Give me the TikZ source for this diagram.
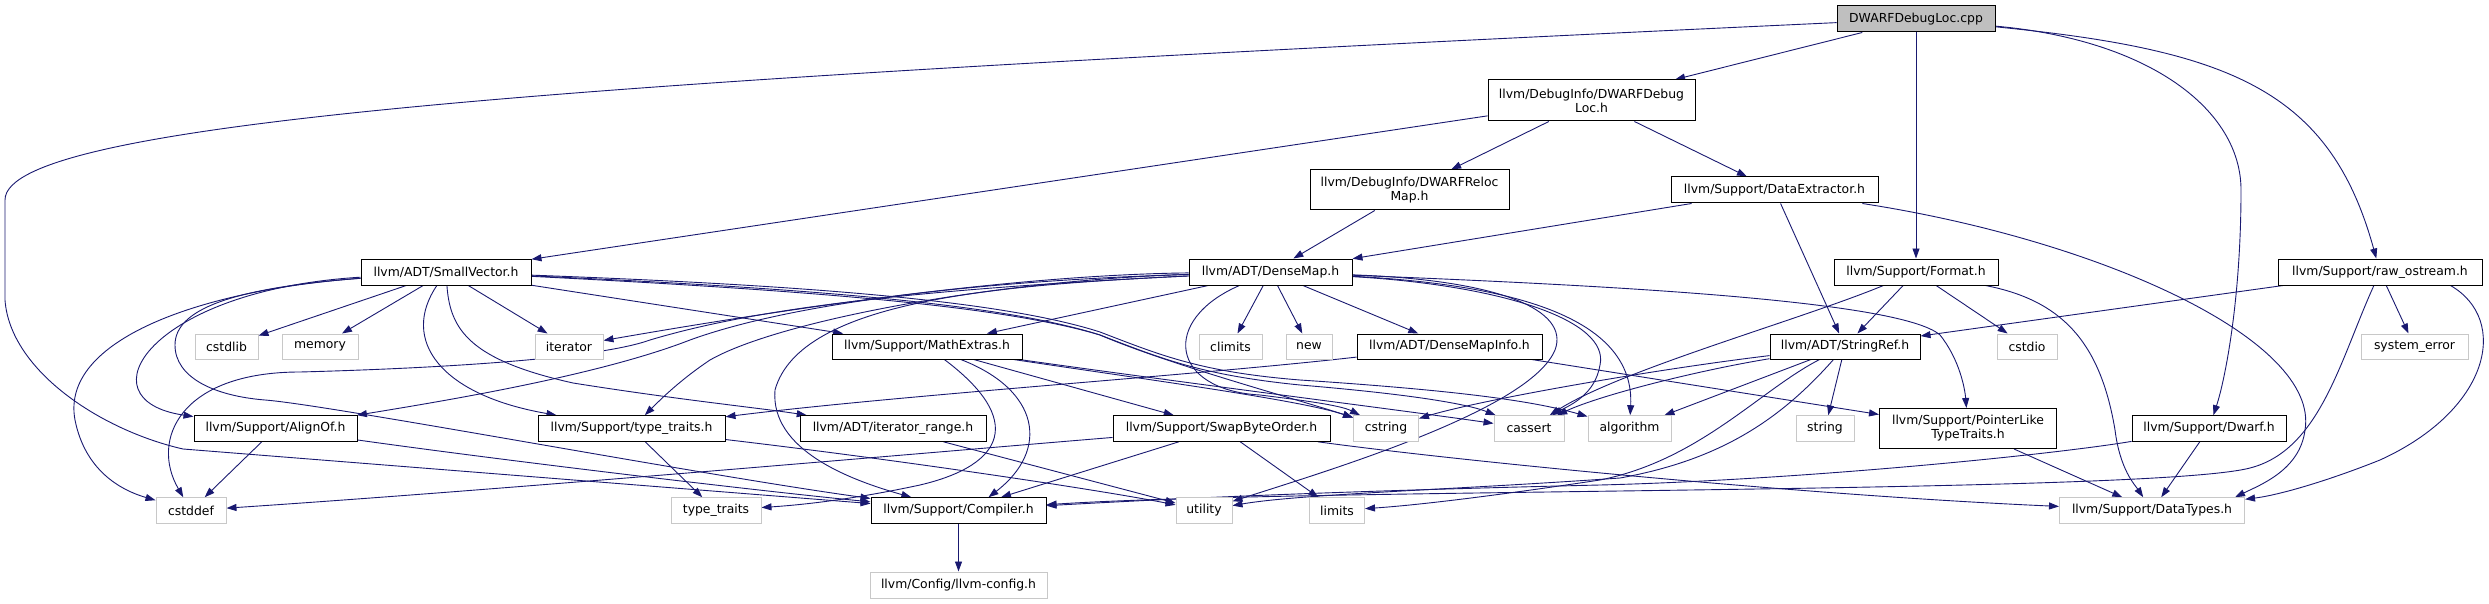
\documentclass[tikz,border=0pt]{standalone}
\usepackage{fontspec}
\setmainfont{DejaVu Sans}
\usetikzlibrary{arrows.meta}
\definecolor{edgeblue}{RGB}{25,25,112}
\definecolor{sysgray}{RGB}{200,200,200}
\definecolor{rootfill}{RGB}{191,191,191}
\pgfdeclarelayer{bg}
\pgfsetlayers{bg,main}
\newcommand{\dxfont}{\fontsize{12.4}{14}\selectfont}
\tikzset{
  base/.style={line width=1pt, inner sep=0pt, font=\dxfont, align=center, fill=white, text=black},
  hdr/.style={base, draw=black},
  sys/.style={base, draw=sysgray},
  rootn/.style={base, draw=black, fill=rootfill},
  sz/.style 2 args={minimum width=#1pt, minimum height=#2pt},
  edge/.style={draw=edgeblue, line width=0.9pt, -{Triangle[length=10pt,width=7pt]}},
}
\begin{document}
\begin{tikzpicture}[x=1pt,y=-1pt]
\useasboundingbox (0,0) rectangle (2489,604);
% row 0-2
\node[rootn, sz={158}{26}] (cpp) at (1916,19) {DWARFDebugLoc.cpp};
\node[hdr, sz={207}{41}] (dlh) at (1591.5,100.5) {llvm/DebugInfo/DWARFDebug\\Loc.h};
\node[hdr, sz={199}{40}] (rel) at (1409.5,190) {llvm/DebugInfo/DWARFReloc\\Map.h};
\node[hdr, sz={207}{26}] (dex) at (1774.5,190) {llvm/Support/DataExtractor.h};
% row 3
\node[hdr, sz={170}{26}] (sv) at (446,272) {llvm/ADT/SmallVector.h};
\node[hdr, sz={163}{26}] (dm) at (1270.5,272) {llvm/ADT/DenseMap.h};
\node[hdr, sz={164}{26}] (fmt) at (1916,272) {llvm/Support/Format.h};
\node[hdr, sz={204}{26}] (ros) at (2380,272) {llvm/Support/raw\_ostream.h};
% row 4
\node[sys, sz={63}{25}] (cstdlib) at (226.5,346.5) {cstdlib};
\node[sys, sz={76}{25}] (memory) at (320,346.5) {memory};
\node[sys, sz={68}{25}] (iterator) at (569,346.5) {iterator};
\node[hdr, sz={190}{25}] (mex) at (927,346.5) {llvm/Support/MathExtras.h};
\node[sys, sz={63}{25}] (climits) at (1230.5,346.5) {climits};
\node[sys, sz={46}{25}] (new) at (1309,346.5) {new};
\node[hdr, sz={185}{25}] (dmi) at (1449.5,346.5) {llvm/ADT/DenseMapInfo.h};
\node[hdr, sz={150}{25}] (sref) at (1845,346.5) {llvm/ADT/StringRef.h};
\node[sys, sz={60}{25}] (cstdio) at (2027,346.5) {cstdio};
\node[sys, sz={107}{25}] (syserr) at (2414.5,346.5) {system\_error};
% row 5
\node[hdr, sz={163}{25.6}] (alignof) at (275.5,428.5) {llvm/Support/AlignOf.h};
\node[hdr, sz={187}{25.6}] (tth) at (631.5,428.5) {llvm/Support/type\_traits.h};
\node[hdr, sz={186}{25.6}] (itr) at (893,428.5) {llvm/ADT/iterator\_range.h};
\node[hdr, sz={217}{25.6}] (sbo) at (1221.5,428.5) {llvm/Support/SwapByteOrder.h};
\node[sys, sz={65}{25.6}] (cstring) at (1386,428.5) {cstring};
\node[sys, sz={70}{25.6}] (cassert) at (1529,428.5) {cassert};
\node[sys, sz={83}{25.6}] (algorithm) at (1629.5,428.5) {algorithm};
\node[sys, sz={58}{25.6}] (string) at (1825,428.5) {string};
\node[hdr, sz={177}{40}] (plt) at (1968,428.5) {llvm/Support/PointerLike\\TypeTraits.h};
\node[hdr, sz={154}{25.6}] (dwarf) at (2209,428.5) {llvm/Support/Dwarf.h};
% row 6
\node[sys, sz={70}{25.5}] (cstddef) at (191,510.5) {cstddef};
\node[sys, sz={90}{25.5}] (ttstd) at (716,510.5) {type\_traits};
\node[hdr, sz={175}{25.5}] (comp) at (958.5,510.5) {llvm/Support/Compiler.h};
\node[sys, sz={56}{25.5}] (utility) at (1204,510.5) {utility};
\node[sys, sz={55}{25.5}] (limits) at (1337,510.5) {limits};
\node[sys, sz={185}{25.5}] (dtypes) at (2152,510.5) {llvm/Support/DataTypes.h};
% row 7
\node[sys, sz={177}{26}] (cfg) at (958.5,585) {llvm/Config/llvm-config.h};

\begin{pgfonlayer}{bg}
% DWARFDebugLoc.cpp
\draw[edge] (cpp) -- (dlh);
\draw[edge] (cpp) .. controls (600,80) and (5,120) .. (5,200) -- (5,300) .. controls (10,370) and (100,430) .. (183,449) -- (comp);
\draw[edge] (cpp) -- (fmt);
\draw[edge] (cpp) .. controls (2150,40) and (2241,110) .. (2241,190) .. controls (2241,300) and (2225,380) .. (dwarf);
\draw[edge] (cpp) .. controls (2230,50) and (2330,90) .. (ros);
% DWARFDebugLoc.h
\draw[edge] (dlh) -- (sv);
\draw[edge] (dlh) -- (rel);
\draw[edge] (dlh) -- (dex);
% RelocMap, DataExtractor
\draw[edge] (rel) -- (dm);
\draw[edge] (dex) -- (dm);
\draw[edge] (dex) -- (sref);
\draw[edge] (dex) .. controls (2100,240) and (2320,340) .. (2305,430) .. controls (2300,470) and (2260,485) .. ([xshift=-10pt]dtypes.north east);
% SmallVector
\draw[edge] (sv) -- (cstdlib);
\draw[edge] (sv) -- (memory);
\draw[edge] (sv) -- (iterator);
\draw[edge] (sv) .. controls (150,290) and (80,400) .. (alignof);
\draw[edge] (sv) .. controls (200,290) and (60,340) .. (75,420) .. controls (85,470) and (120,490) .. (cstddef);
\draw[edge] (sv) .. controls (230,288) and (175,310) .. (175,345) .. controls (175,378) and (215,396) .. (265,400) .. controls (330,405) and (700,475) .. (comp);
\draw[edge] (sv) .. controls (400,340) and (440,395) .. ([xshift=-75pt]tth.north);
\draw[edge] (sv) .. controls (450,330) and (470,360) .. (573,383) .. controls (680,400) and (760,408) .. (itr);
\draw[edge] (sv) -- (mex);
\draw[edge] (sv) .. controls (800,288) and (1000,303) .. (1100,335) .. controls (1160,358) and (1200,375) .. (1300,385) .. controls (1420,395) and (1470,405) .. (cassert);
\draw[edge] (sv) .. controls (800,285) and (1000,300) .. (1100,332) .. controls (1160,355) and (1200,372) .. (1300,380) .. controls (1450,390) and (1530,400) .. (algorithm);
\draw[edge] (sv) .. controls (800,290) and (1000,305) .. (1100,335) .. controls (1170,365) and (1300,400) .. (cstring);
% DenseMap
\draw[edge] (dm) -- (mex);
\draw[edge] (dm) -- (climits);
\draw[edge] (dm) -- (new);
\draw[edge] (dm) -- (dmi);
\draw[edge] (dm) .. controls (1160,320) and (1170,390) .. (1260,395) .. controls (1300,400) and (1340,405) .. (cstring);
\draw[edge] (dm) .. controls (1500,285) and (1610,320) .. (1600,365) .. controls (1595,395) and (1570,405) .. (cassert);
\draw[edge] (dm) .. controls (1520,285) and (1635,320) .. (algorithm);
\draw[edge] (dm) .. controls (1500,280) and (1570,310) .. (1555,350) .. controls (1530,410) and (1330,470) .. (utility);
\draw[edge] (dm) .. controls (1000,275) and (750,315) .. (iterator);
\draw[edge] (dm) .. controls (1000,280) and (780,320) .. (710,360) .. controls (680,380) and (660,400) .. (tth);
\draw[edge] (dm) .. controls (1000,280) and (800,300) .. (690,340) .. controls (600,375) and (450,400) .. (alignof);
\draw[edge] (dm) .. controls (1000,285) and (800,300) .. (775,390) .. controls (770,450) and (850,480) .. (comp);
\draw[edge] (dm) .. controls (1600,285) and (1900,300) .. (1940,335) .. controls (1960,360) and (1965,390) .. (plt);
\draw[edge] (dm) .. controls (900,290) and (750,310) .. (650,340) .. controls (600,358) and (450,368) .. (300,372) .. controls (180,372) and (150,440) .. (cstddef);
% Format
\draw[edge] (fmt) -- (sref);
\draw[edge] (fmt) -- (cstdio);
\draw[edge] (fmt) .. controls (2060,300) and (2100,340) .. (2115,430) .. controls (2120,470) and (2135,485) .. (dtypes);
\draw[edge] (fmt) .. controls (1800,320) and (1620,370) .. (cassert);
% raw_ostream
\draw[edge] (ros) -- (sref);
\draw[edge] (ros) -- (syserr);
\draw[edge] ([xshift=-32pt]ros.south east) .. controls (2510,320) and (2490,410) .. (2380,460) .. controls (2330,480) and (2280,495) .. (dtypes);
\draw[edge] (ros) .. controls (2340,360) and (2320,450) .. (2250,468) .. controls (2150,494) and (1300,488) .. (comp);
% Dwarf
\draw[edge] (dwarf) .. controls (2050,455) and (1800,480) .. (1600,485) .. controls (1300,492) and (1150,500) .. (comp);
\draw[edge] (dwarf) -- (dtypes);
% StringRef
\draw[edge] (sref) .. controls (1700,370) and (1600,395) .. (cassert);
\draw[edge] (sref) .. controls (1650,370) and (1480,400) .. (cstring);
\draw[edge] (sref) -- (algorithm);
\draw[edge] (sref) .. controls (1760,390) and (1700,460) .. (1600,480) .. controls (1500,495) and (1420,505) .. (limits);
\draw[edge] (sref) .. controls (1780,420) and (1720,460) .. (1620,478) .. controls (1450,490) and (1300,494) .. (utility);
\draw[edge] (sref) -- (string);
% DenseMapInfo
\draw[edge] (dmi) -- (plt);
\draw[edge] (dmi) .. controls (1200,375) and (900,395) .. (tth);
% PointerLikeTypeTraits
\draw[edge] (plt) -- (dtypes);
% MathExtras
\draw[edge] (mex) .. controls (1150,380) and (1300,400) .. (cstring);
\draw[edge] (mex) .. controls (1200,385) and (1400,410) .. (cassert);
\draw[edge] (mex) -- (sbo);
\draw[edge] (mex) .. controls (1040,390) and (1050,450) .. ([xshift=30pt]comp.north);
\draw[edge] (mex) .. controls (1025,420) and (1005,465) .. (920,485) .. controls (850,500) and (800,505) .. (ttstd);
% SwapByteOrder
\draw[edge] (sbo) -- (comp);
\draw[edge] (sbo) -- (limits);
\draw[edge] (sbo) .. controls (1450,460) and (1800,495) .. (dtypes);
\draw[edge] (sbo) .. controls (900,455) and (500,490) .. (cstddef);
% type_traits.h, iterator_range.h
\draw[edge] (tth) -- (ttstd);
\draw[edge] (tth) .. controls (900,460) and (1100,490) .. (utility);
\draw[edge] (itr) -- (utility);
% AlignOf
\draw[edge] (alignof) -- (cstddef);
\draw[edge] (alignof) .. controls (500,460) and (750,490) .. (comp);
% Compiler
\draw[edge] (comp) -- (cfg);
\end{pgfonlayer}
\end{tikzpicture}
\end{document}
